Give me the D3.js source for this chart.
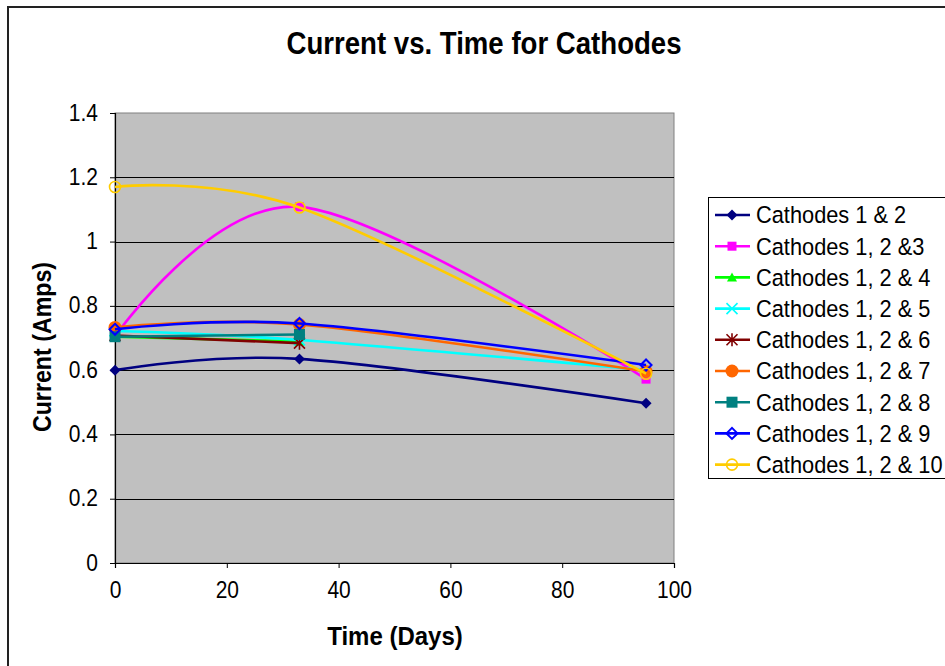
<!DOCTYPE html>
<html>
<script src="https://d3js.org/d3.v7.min.js"></script>
<head>
    <title>Current vs. Time for Cathodes</title>
    <meta charset="UTF-8">
    <style type="text/css">
        body { margin: 0; background: #fff; }
        text { font-family: "Liberation Sans", Arial, sans-serif; fill: #000; }
        .series { fill: none; stroke-width: 2.6; }
    </style>
</head>
<body>
<script type="text/javascript">
    // values
    var days = [0, 33, 95];
    var names = ["Cathodes 1 & 2", "Cathodes 1, 2 &3", "Cathodes 1, 2 & 4", "Cathodes 1, 2 & 5",
        "Cathodes 1, 2 & 6", "Cathodes 1, 2 & 7", "Cathodes 1, 2 & 8", "Cathodes 1, 2 & 9",
        "Cathodes 1, 2 & 10"];
    var c12 = [0.600, 0.635, 0.497];
    var c123 = [0.705, 1.108, 0.572];
    var c124 = [0.704, 0.689];
    var c125 = [0.722, 0.694, 0.600];
    var c126 = [0.708, 0.684];
    var c127 = [0.733, 0.742, 0.596];
    var c128 = [0.704, 0.711];
    var c129 = [0.727, 0.745, 0.616];
    var c1210 = [1.170, 1.106, 0.589];
    var yTicks = [0, 0.2, 0.4, 0.6, 0.8, 1, 1.2, 1.4];
    var xTicks = [0, 20, 40, 60, 80, 100];

    var allValues = [c12, c123, c124, c125, c126, c127, c128, c129, c1210];
    var colors = ["#000080", "#ff00ff", "#00ff00", "#00ffff", "#800000", "#ff6600", "#008080", "#0000ff", "#ffcc00"];
    var markers = ["diamond", "square", "triangle", "x", "star", "circle", "bigsquare", "odiamond", "ocircle"];

    var width = 945, height = 666;
    var plot = { left: 115, right: 674, top: 113, bottom: 563 };

    var svg = d3.select("body").append("svg")
        .attr("width", width)
        .attr("height", height);

    // outer chart border (runs off the right / bottom edge)
    svg.append("rect")
        .attr("x", 8).attr("y", 7)
        .attr("width", 960).attr("height", 680)
        .attr("fill", "#fff")
        .attr("stroke", "#222")
        .attr("stroke-width", 2);

    var x = d3.scaleLinear().domain([0, 100]).range([plot.left, plot.right]);
    var y = d3.scaleLinear().domain([0, 1.4]).range([plot.bottom, plot.top]);

    // plot area
    svg.append("rect")
        .attr("x", plot.left).attr("y", plot.top)
        .attr("width", plot.right - plot.left).attr("height", plot.bottom - plot.top)
        .attr("fill", "#c0c0c0")
        .attr("stroke", "#808080")
        .attr("stroke-width", 1);

    svg.append("g").selectAll("line")
        .data(yTicks.slice(1, yTicks.length - 1))
        .enter().append("line")
        .attr("x1", plot.left).attr("x2", plot.right)
        .attr("y1", function (d) { return Math.round(y(d)) + 0.5; })
        .attr("y2", function (d) { return Math.round(y(d)) + 0.5; })
        .attr("stroke", "#000")
        .attr("stroke-width", 1);

    var yAxis = d3.axisLeft(y).tickValues(yTicks).tickSize(5).tickPadding(12)
        .tickFormat(function (d) { return d3.format("")(d); });
    var xAxis = d3.axisBottom(x).tickValues(xTicks).tickSize(5).tickPadding(14);

    var gy = svg.append("g")
        .attr("transform", "translate(" + plot.left + ",0)")
        .call(yAxis);
    var gx = svg.append("g")
        .attr("transform", "translate(0," + plot.bottom + ")")
        .call(xAxis);

    [gx, gy].forEach(function (g) {
        g.select(".domain").attr("stroke", "#000").attr("stroke-width", 1.2);
        g.selectAll(".tick line").attr("stroke", "#000");
        g.selectAll(".tick text")
            .style("font-family", "'Liberation Sans', Arial, sans-serif")
            .style("font-size", "21px")
            .attr("fill", "#000")
            .attr("transform", "scale(1,1.12)");
    });
    gy.selectAll(".tick text").attr("dy", "0.3em");
    gx.selectAll(".tick text").attr("dy", "0.6em");

    function stretched(txt, tx, ty, size, bold, rot, k) {
        svg.append("text")
            .attr("transform", "translate(" + tx + "," + ty + ") rotate(" + rot + ") scale(1," + k + ")")
            .attr("text-anchor", "middle")
            .style("font-size", size + "px")
            .style("font-weight", bold ? "bold" : "normal")
            .text(txt);
    }

    stretched("Current vs. Time for Cathodes", 484, 54, 27.6, true, 0, 1.15);
    stretched("Time (Days)", 395, 645, 24, true, 0, 1.1);
    stretched("Current (Amps)", 51, 347, 23.2, true, -90, 1.12);

    var line = d3.line()
        .x(function (d) { return x(d[0]); })
        .y(function (d) { return y(d[1]); })
        .curve(d3.curveCardinal.tension(0));

    function drawMarker(g, kind, color, px, py) {
        var m;
        if (kind === "diamond" || kind === "odiamond") {
            var r = 5.5;
            m = g.append("path")
                .attr("d", "M" + px + "," + (py - r) + "L" + (px + r) + "," + py + "L" + px + "," + (py + r) + "L" + (px - r) + "," + py + "Z");
            if (kind === "diamond") m.attr("fill", color);
            else m.attr("fill", "none").attr("stroke", color).attr("stroke-width", 2);
        } else if (kind === "square" || kind === "bigsquare") {
            var s = kind === "square" ? 9 : 11;
            g.append("rect")
                .attr("x", px - s / 2).attr("y", py - s / 2)
                .attr("width", s).attr("height", s)
                .attr("fill", color);
        } else if (kind === "triangle") {
            g.append("path")
                .attr("d", "M" + px + "," + (py - 5) + "L" + (px + 5) + "," + (py + 4) + "L" + (px - 5) + "," + (py + 4) + "Z")
                .attr("fill", color);
        } else if (kind === "x" || kind === "star") {
            var a = 5.5;
            var d = "M" + (px - a) + "," + (py - a) + "L" + (px + a) + "," + (py + a) +
                "M" + (px - a) + "," + (py + a) + "L" + (px + a) + "," + (py - a);
            if (kind === "star") d += "M" + px + "," + (py - a - 1) + "L" + px + "," + (py + a + 1);
            g.append("path").attr("d", d)
                .attr("fill", "none").attr("stroke", color).attr("stroke-width", 1.6);
        } else if (kind === "circle") {
            g.append("circle").attr("cx", px).attr("cy", py).attr("r", 6.5).attr("fill", color);
        } else if (kind === "ocircle") {
            g.append("circle").attr("cx", px).attr("cy", py).attr("r", 5.5)
                .attr("fill", "none").attr("stroke", color).attr("stroke-width", 1.6);
        }
    }

    allValues.forEach(function (vals, i) {
        var pts = vals.map(function (v, j) { return [days[j], v]; });
        var g = svg.append("g");
        g.append("path")
            .attr("class", "series")
            .attr("stroke", colors[i])
            .attr("d", line(pts));
        pts.forEach(function (p) {
            drawMarker(g, markers[i], colors[i], x(p[0]), y(p[1]));
        });
    });

    // legend
    var lg = svg.append("g");
    lg.append("rect")
        .attr("x", 708.5).attr("y", 197.5)
        .attr("width", 260).attr("height", 281)
        .attr("fill", "#fff")
        .attr("stroke", "#000")
        .attr("stroke-width", 1);

    names.forEach(function (name, i) {
        var cy = 215 + i * 31.2;
        lg.append("line")
            .attr("x1", 715).attr("x2", 750)
            .attr("y1", cy).attr("y2", cy)
            .attr("stroke", colors[i]).attr("stroke-width", 2.6);
        drawMarker(lg, markers[i], colors[i], 732, cy);
        lg.append("text")
            .attr("transform", "translate(756," + (cy + 8.3) + ") scale(1,1.07)")
            .style("font-size", "21.8px")
            .text(name);
    });
</script>
</body>
</html>
